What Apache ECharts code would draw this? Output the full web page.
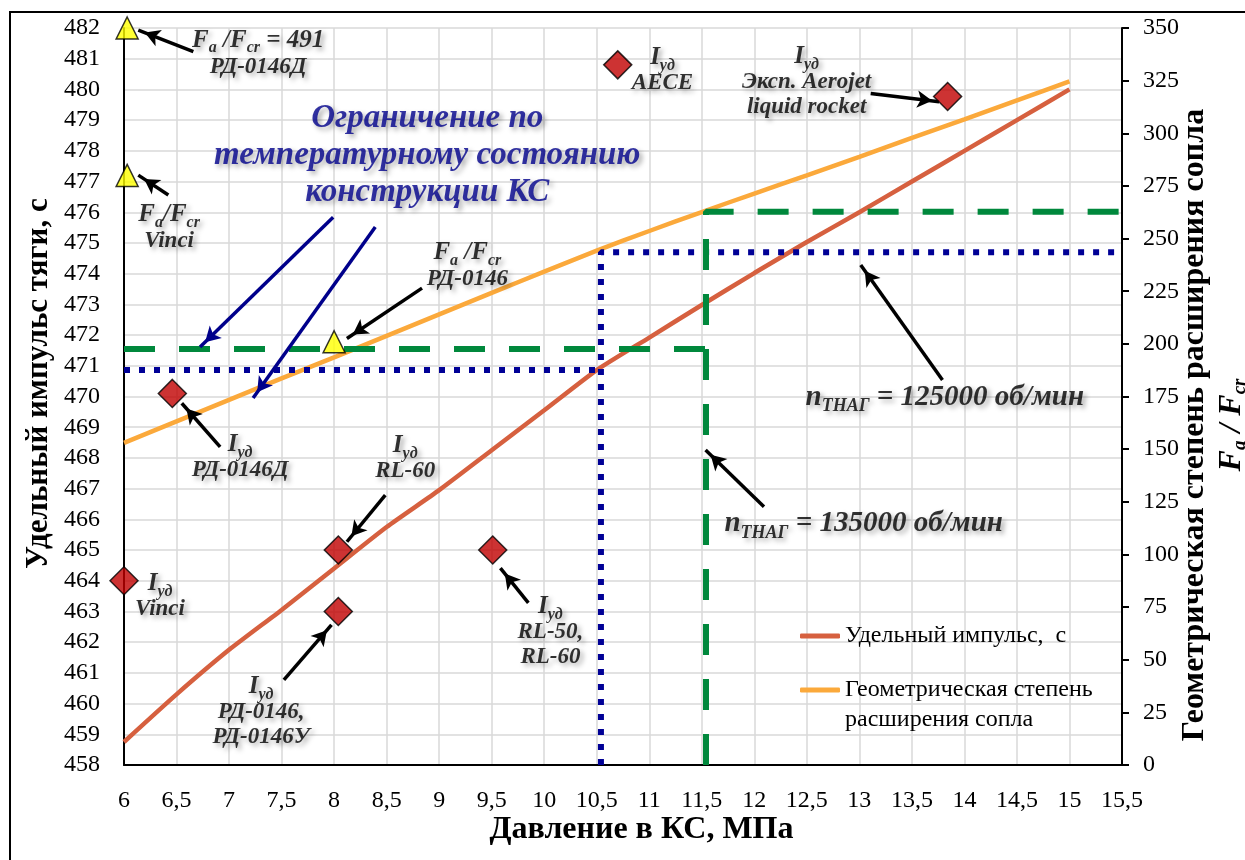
<!DOCTYPE html>
<html>
<head>
<meta charset="utf-8">
<script src="https://cdn.jsdelivr.net/npm/echarts@6/dist/echarts.min.js"></script>
<style>
  html, body { margin: 0; padding: 0; background: #fff; overflow: hidden; }
  #chart { width: 1245px; height: 860px; }
</style>
</head>
<body>
<div id="chart"></div>
<script>
// Chamber pressure grid, МПа
const pressure = [6, 6.5, 7, 7.5, 8, 8.5, 9, 9.5, 10, 10.5, 11, 11.5, 12, 12.5, 13, 13.5, 14, 14.5, 15];
// Specific impulse, s (left axis)
const specificImpulse = [458.75, 460.3, 461.75, 463.05, 464.4, 465.75, 466.95, 468.25, 469.55, 470.86,
  471.92, 472.98, 474.02, 475.03, 476.0, 477.0, 478.0, 479.0, 480.0];
// Nozzle area ratio Fa/Fcr (right axis)
const expansionRatio = [153.0, 163.2, 173.4, 183.6, 193.6, 203.8, 214.0, 224.2, 234.3, 244.3,
  253.6, 262.6, 271.4, 280.0, 288.8, 297.8, 306.6, 315.6, 324.6];

// Turbopump speed limits: [pressure, impulse] polylines on the left axis
const rpm125Left = [[6, 470.86], [10.54, 470.86]];
const rpm125Right = [[10.54, 458], [10.54, 474.7], [15.5, 474.7]];
const rpm135Left = [[6, 471.55], [11.54, 471.55]];
const rpm135Right = [[11.54, 458], [11.54, 476.02], [15.5, 476.02]];

// Reference engines: specific impulse [pressure, s]
const impulseRefs = [[6, 464.0], [6.46, 470.1], [8.04, 465.0], [8.04, 463.0], [9.51, 465.0], [10.70, 480.8], [13.84, 479.77]];
// Reference engines: area ratio [pressure, Fa/Fcr]
const areaRatioRefs = [[6.03, 350], [6.03, 280], [8.0, 201]];

// Series names shown in the legend
const seriesNames = ['Удельный импульс,  с', 'Геометрическая степень расширения сопла'];

// Annotation texts and their anchors [pressure, impulse]
const noteText = [
  '{F|F}{fs|a}{F| /F}{fs|cr}{F| = 491}\n{t|РД-0146Д}',
  '{F|F}{fs|a}{F|/F}{fs|cr}\n{t|Vinci}',
  '{blue|Ограничение по}\n{blue|температурному состоянию}\n{blue|конструкции КС}',
  '{F|F}{fs|a}{F| /F}{fs|cr}\n{t|РД-0146}',
  '{I|I}{s|уд}\n{t|РД-0146Д}',
  '{I|I}{s|уд}\n{t|RL-60}',
  '{I|I}{s|уд}\n{t|Vinci}',
  '{I|I}{s|уд}\n{t|РД-0146,}\n{t|РД-0146У}',
  '{I|I}{s|уд}\n{t|RL-50,}\n{t|RL-60}',
  '{I|I}{s|уд}\n{t|AECE}',
  '{I|I}{s|уд}\n{t|Эксп. Aerojet}\n{t|liquid rocket}',
  '{n|n}{ns|ТНАГ}{n| = 125000 об/мин}',
  '{n|n}{ns|ТНАГ}{n| = 135000 об/мин}'
];
const noteAnchors = [
  [7.277, 481.20], [6.429, 475.52], [8.887, 477.86], [9.268, 474.27], [7.105, 468.03],
  [8.677, 468.00], [6.343, 463.50], [7.305, 459.73], [10.059, 462.33], [11.126, 480.63],
  [12.498, 480.24], [13.813, 469.98], [13.041, 465.85]
];

// Callout arrows [[from], [to]] in [pressure, impulse]
const arrowsBlack = [
  [[6.660, 481.227], [6.136, 481.933]],
  [[6.422, 476.56], [6.136, 477.21]],
  [[8.837, 473.53], [8.122, 471.89]],
  [[6.915, 468.36], [6.550, 469.78]],
  [[8.487, 466.79], [8.122, 465.27]],
  [[7.522, 460.77], [7.975, 462.56]],
  [[9.849, 463.28], [9.583, 464.41]],
  [[13.108, 479.87], [13.759, 479.60]],
  [[13.791, 470.54], [13.013, 474.28]],
  [[12.092, 466.41], [11.536, 468.26]]
];
const arrowsBlue = [
  [[7.991, 475.84], [6.724, 471.61]],
  [[8.392, 475.52], [7.229, 469.95]]
];

const SERIF = '"Liberation Serif", "Times New Roman", serif';
const RED = '#D6603F';
const ORANGE = '#FBA93B';
const GREEN = '#00883C';
const NAVY = '#000096';

function tok(size, extra) {
  return Object.assign({
    fontFamily: SERIF, fontWeight: 'bold', fontStyle: 'italic', fontSize: size, color: '#000',
    textShadowColor: 'rgba(0,0,0,0.42)', textShadowBlur: 5, textShadowOffsetX: 3, textShadowOffsetY: 3
  }, extra || {});
}
const noteRich = {
  I: tok(25, { lineHeight: 26 }),
  s: tok(16, { lineHeight: 12, padding: [16, 0, 0, 0] }),
  F: tok(25, { lineHeight: 28 }),
  fs: tok(16, { lineHeight: 12, padding: [16, 0, 0, 0] }),
  t: tok(23, { lineHeight: 25 }),
  blue: tok(33, { lineHeight: 37, color: '#00008B' }),
  n: tok(29, { lineHeight: 30 }),
  ns: tok(18, { lineHeight: 14, padding: [18, 0, 0, 0] })
};

function pairs(xs, ys) { return xs.map((x, i) => [x, ys[i]]); }
function arrowData(list) { return list.map(a => [{ coord: a[0] }, { coord: a[1] }]); }
function refLine(data, color, width, dash) {
  return {
    type: 'line', data: data, yAxisIndex: 0, symbol: 'none', silent: true, z: 3,
    lineStyle: { color: color, width: width, type: dash, cap: 'butt' }
  };
}
// One legend block per series. The swatch sits at the middle line of the
// text, so the wrapped entry gets a blank first line to keep its swatch
// level with "Геометрическая степень".
function legendBlock(name, top, text) {
  return {
    orient: 'vertical', left: 795, top: top, itemWidth: 40, itemHeight: 5,
    selectedMode: false, icon: 'roundRect',
    data: [name],
    formatter: () => text,
    textStyle: { fontFamily: SERIF, fontSize: 24, color: '#000', lineHeight: 30 }
  };
}

const chart = echarts.init(document.getElementById('chart'), null, { renderer: 'canvas' });

const option = {
  animation: false,
  backgroundColor: '#fff',
  textStyle: { fontFamily: SERIF },
  grid: { left: 124, right: 123, top: 28, bottom: 95, outerBoundsMode: 'none', containLabel: false },
  graphic: [{
    type: 'rect', silent: true, z: 100,
    shape: { x: 10, y: 12, width: 1300, height: 900 },
    style: { fill: 'none', stroke: '#000', lineWidth: 2 }
  }],
  legend: [
    legendBlock(seriesNames[0], 616, 'Удельный импульс,  с'),
    legendBlock(seriesNames[1], 640, '\u00a0\nГеометрическая степень\nрасширения сопла')
  ],
  xAxis: {
    type: 'value', min: 6, max: 15.5, interval: 0.5,
    name: 'Давление в КС, МПа', nameLocation: 'middle', nameGap: 49, nameMoveOverlap: false,
    nameTextStyle: { fontFamily: SERIF, fontWeight: 'bold', fontSize: 32, color: '#000', padding: [0, 0, 0, 37] },
    axisLine: { onZero: false, lineStyle: { color: '#000', width: 2 } },
    axisTick: { show: false },
    axisLabel: {
      fontFamily: SERIF, fontSize: 24, color: '#000', margin: 24,
      formatter: v => String(v).replace('.', ',')
    },
    splitLine: { show: true, lineStyle: { color: '#D9D9D9', width: 1.5 } }
  },
  yAxis: [{
    type: 'value', min: 458, max: 482, interval: 1, position: 'left',
    name: 'Удельный импульс тяги, с', nameLocation: 'middle', nameRotate: 90, nameGap: 70, nameMoveOverlap: false,
    nameTextStyle: { fontFamily: SERIF, fontWeight: 'bold', fontSize: 31, color: '#000', padding: [0, 0, 0, 26] },
    axisLine: { show: true, onZero: false, lineStyle: { color: '#000', width: 2 } },
    axisTick: { show: false },
    axisLabel: { fontFamily: SERIF, fontSize: 24, color: '#000', margin: 24 },
    splitLine: { show: true, lineStyle: { color: '#D9D9D9', width: 1.5 } }
  }, {
    type: 'value', min: 0, max: 350, interval: 25, position: 'right',
    name: '{a|Геометрическая степень расширения сопла}\n{F|F}{s|a}{F| / F}{s|cr}',
    nameLocation: 'middle', nameRotate: 90, nameGap: 54, nameMoveOverlap: false,
    nameTextStyle: {
      padding: [0, 57, 0, 0],
      rich: {
        a: { fontFamily: SERIF, fontWeight: 'bold', fontSize: 32, color: '#000', lineHeight: 37 },
        F: { fontFamily: SERIF, fontWeight: 'bold', fontStyle: 'italic', fontSize: 32, color: '#000', lineHeight: 37 },
        s: { fontFamily: SERIF, fontWeight: 'bold', fontStyle: 'italic', fontSize: 19, color: '#000', lineHeight: 14, padding: [18, 0, 0, 0] }
      }
    },
    axisLine: { show: true, onZero: false, lineStyle: { color: '#000', width: 2 } },
    axisTick: { show: true, inside: false, length: 7, lineStyle: { color: '#000', width: 2 } },
    axisLabel: { fontFamily: SERIF, fontSize: 24, color: '#000', margin: 21 },
    splitLine: { show: false }
  }],
  series: [
    {
      name: seriesNames[0], type: 'line', yAxisIndex: 0, smooth: 0.2,
      data: pairs(pressure, specificImpulse), symbol: 'none', showSymbol: false, z: 2,
      lineStyle: { color: RED, width: 4.5 }, itemStyle: { color: RED }
    },
    {
      name: seriesNames[1], type: 'line', yAxisIndex: 1, smooth: 0.2,
      data: pairs(pressure, expansionRatio), symbol: 'none', showSymbol: false, z: 2,
      lineStyle: { color: ORANGE, width: 4.5 }, itemStyle: { color: ORANGE }
    },
    refLine(rpm125Left, NAVY, 6, [6, 9]),
    refLine(rpm125Right, NAVY, 6, [6, 9]),
    refLine(rpm135Left, GREEN, 6, [31, 24]),
    refLine(rpm135Right, GREEN, 6, [31, 24]),
    {
      type: 'scatter', yAxisIndex: 0, data: impulseRefs, symbol: 'diamond', symbolSize: 28,
      clip: false, silent: true, z: 5,
      itemStyle: { color: '#C00000', borderColor: '#000', borderWidth: 1.5 }
    },
    {
      type: 'scatter', yAxisIndex: 1, data: areaRatioRefs, symbol: 'triangle', symbolSize: 22,
      clip: false, silent: true, z: 5,
      itemStyle: { color: '#FFFF00', borderColor: '#000', borderWidth: 1.5 }
    },
    {
      type: 'scatter', yAxisIndex: 0, data: noteAnchors, symbolSize: 0.1, clip: false, silent: true, z: 6,
      itemStyle: { color: 'rgba(0,0,0,0)' },
      label: {
        show: true, position: 'inside', align: 'center',
        formatter: p => noteText[p.dataIndex],
        fontFamily: SERIF, fontWeight: 'bold', fontStyle: 'italic', color: '#000',
        rich: noteRich
      },
      markLine: {
        silent: true, symbol: ['none', 'arrow'], symbolSize: [13, 15], symbolOffset: [0, [0, 7]],
        label: { show: false },
        lineStyle: { color: '#000', width: 3.5, type: 'solid' },
        data: arrowData(arrowsBlack)
      }
    },
    {
      type: 'scatter', yAxisIndex: 0, data: [], silent: true, z: 6,
      markLine: {
        silent: true, symbol: ['none', 'arrow'], symbolSize: [13, 15], symbolOffset: [0, [0, 7]],
        label: { show: false },
        lineStyle: { color: '#00008B', width: 3.5, type: 'solid' },
        data: arrowData(arrowsBlue)
      }
    }
  ]
};

chart.setOption(option);
</script>
</body>
</html>
